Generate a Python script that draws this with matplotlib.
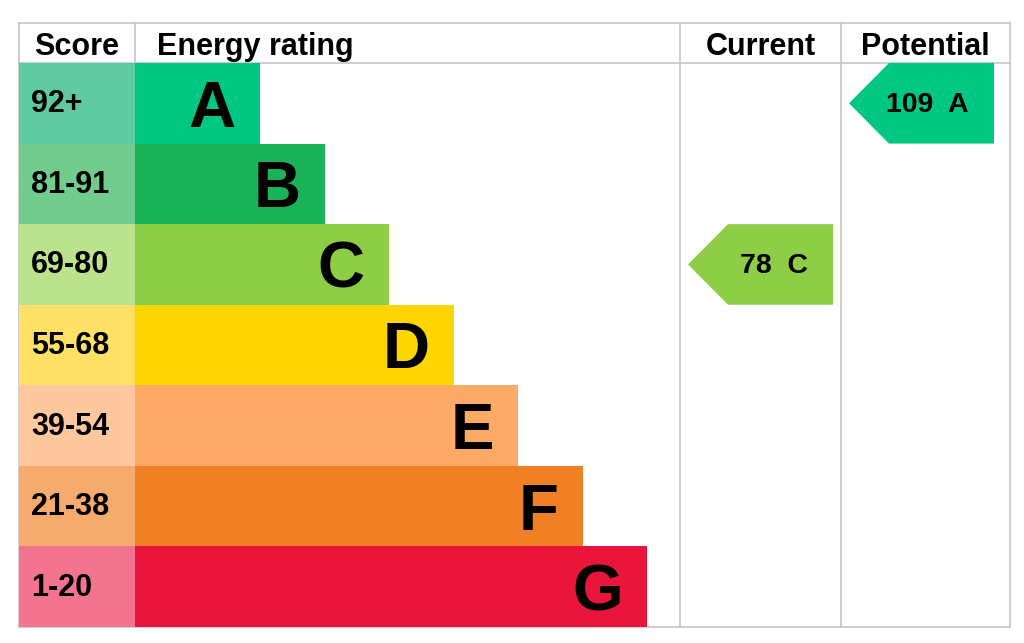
import matplotlib
matplotlib.use("Agg")
import matplotlib.pyplot as plt
from matplotlib.patches import Rectangle, Polygon

plt.rcParams["font.family"] = ["Liberation Sans", "DejaVu Sans"]

# EPC bands, top (best) to bottom (worst)
bands = ["A", "B", "C", "D", "E", "F", "G"]
score_labels = ["92+", "81-91", "69-80", "55-68", "39-54", "21-38", "1-20"]
band_min = [92, 81, 69, 55, 39, 21, 1]
bar_colors = ["#00c781", "#1bb35a", "#8dce46", "#ffd500", "#fcaa65", "#ef8023", "#e9153b"]
score_colors = ["#5fc9a2", "#71cc8e", "#bbe28d", "#ffe066", "#fec79d", "#f5aa6e", "#f2748f"]
current_score = 78
potential_score = 109

# layout in pixels
W, H = 1024, 643
left, right, top, head_b, bottom = 19, 1010, 23, 63, 627
col_score, col_cur, col_pot = 135, 680, 841
row_h = (bottom - head_b) / len(bands)
bar_w0, bar_step = 125, 64.5
grid = "#c6c6c6"


def band_of(score):
    for i, m in enumerate(band_min):
        if score >= m:
            return i
    return len(bands) - 1


fig = plt.figure(figsize=(W / 100, H / 100), dpi=100)
ax = fig.add_axes([0, 0, 1, 1])
ax.set_xlim(0, W)
ax.set_ylim(H, 0)
ax.axis("off")

# grid lines
for y in (top, head_b, bottom):
    ax.plot([left, right], [y, y], color=grid, lw=1.2, zorder=1)
for x in (left, col_score, col_cur, col_pot, right):
    ax.plot([x, x], [top, bottom], color=grid, lw=1.2, zorder=1)

# header
hb = (top + head_b) / 2 + 12
hkw = dict(va="baseline", fontsize=22, fontweight="bold")
ax.text((left + col_score) / 2, hb, "Score", ha="center", **hkw)
ax.text(col_score + 22, hb, "Energy rating", ha="left", **hkw)
ax.text((col_cur + col_pot) / 2, hb, "Current", ha="center", **hkw)
ax.text((col_pot + right) / 2, hb, "Potential", ha="center", **hkw)

# bands
for i, (b, lab) in enumerate(zip(bands, score_labels)):
    y0 = head_b + i * row_h
    yc = y0 + row_h / 2
    ax.add_patch(Rectangle((left, y0), col_score - left, row_h, color=score_colors[i], lw=0, zorder=2))
    bw = bar_w0 + bar_step * i
    ax.add_patch(Rectangle((col_score, y0), bw, row_h, color=bar_colors[i], lw=0, zorder=2))
    ax.text(left + 12, yc + 9, lab, ha="left", va="baseline", fontsize=22, fontweight="bold", zorder=3)
    ax.text(col_score + bw - 24, yc + 23.5, b, ha="right", va="baseline", fontsize=47,
            fontweight="bold", zorder=3)


def arrow(score, x0, x1):
    i = band_of(score)
    y0 = head_b + i * row_h
    y1 = y0 + row_h
    yc = (y0 + y1) / 2
    pts = [(x0, yc), (x0 + 40, y0), (x1, y0), (x1, y1), (x0 + 40, y1)]
    ax.add_patch(Polygon(pts, closed=True, color=bar_colors[i], lw=0, zorder=2))
    ax.text(x1 - 25, yc + 9, f"{score}  {bands[i]}", ha="right", va="baseline",
            fontsize=20.5, fontweight="bold", zorder=3)


arrow(current_score, col_cur + 8, col_pot - 8)
arrow(potential_score, col_pot + 8, right - 16)

fig.savefig("out.png", dpi=100)
